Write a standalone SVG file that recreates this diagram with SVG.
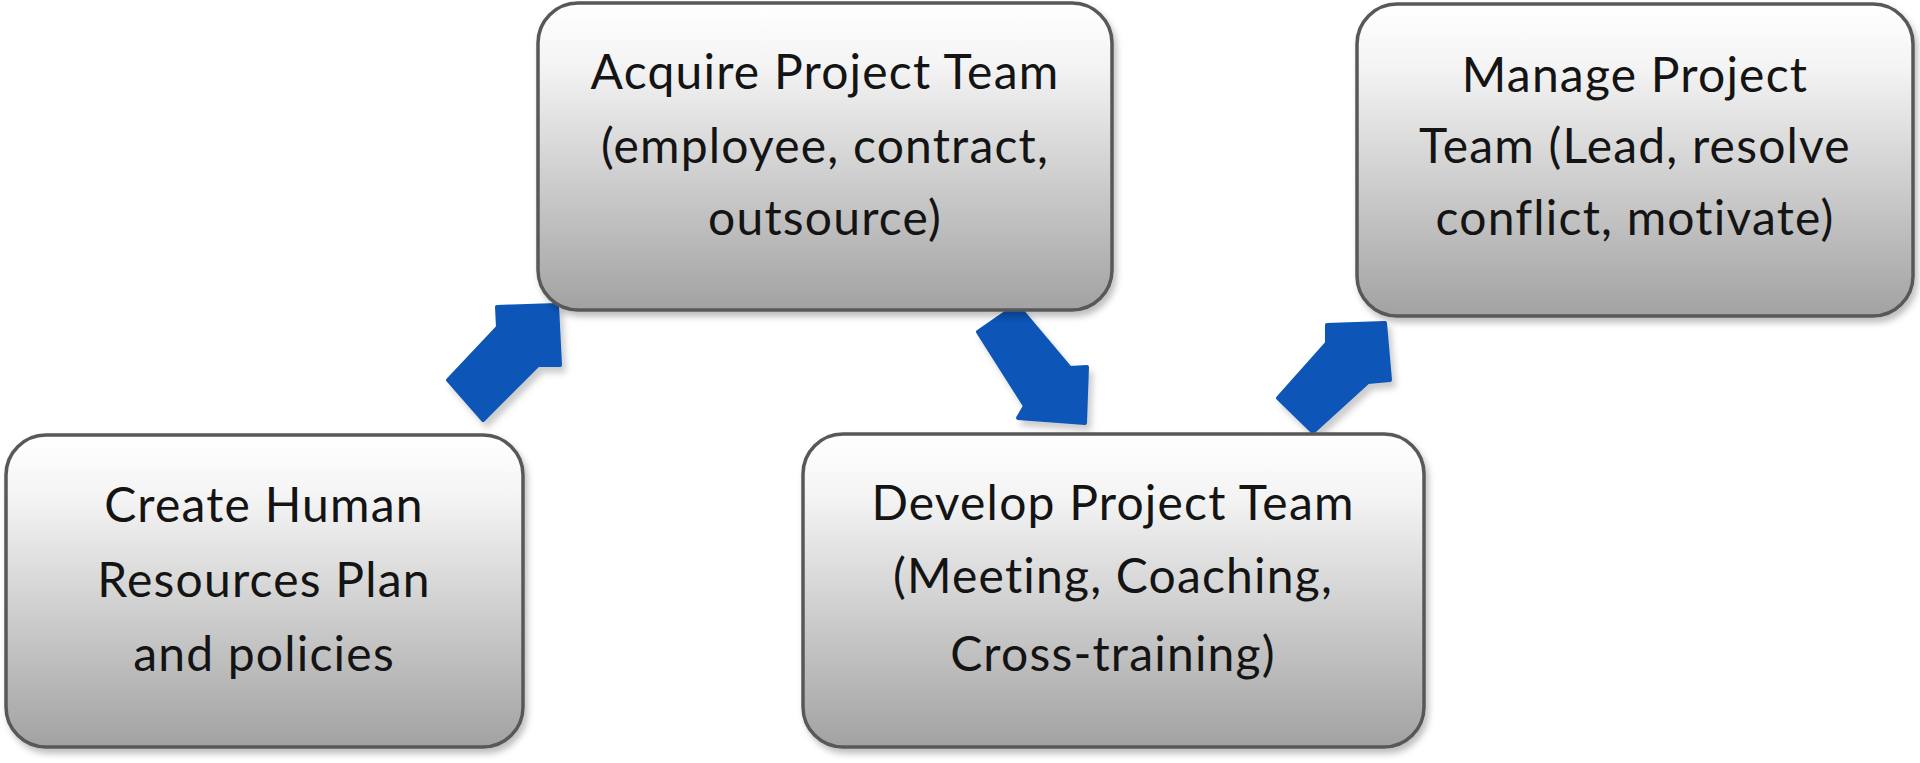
<svg xmlns="http://www.w3.org/2000/svg" width="1920" height="763" viewBox="0 0 1920 763">
<defs>
<linearGradient id="g" x1="0" y1="0" x2="0" y2="1">
<stop offset="0" stop-color="#ffffff"/>
<stop offset="0.2" stop-color="#f4f4f4"/>
<stop offset="1" stop-color="#a2a2a2"/>
</linearGradient>
<filter id="sh" x="-10%" y="-10%" width="120%" height="130%">
<feDropShadow dx="3" dy="5" stdDeviation="3" flood-color="#000" flood-opacity="0.25"/>
</filter>
<filter id="ash" x="-20%" y="-20%" width="150%" height="150%">
<feDropShadow dx="4" dy="6" stdDeviation="3" flood-color="#000" flood-opacity="0.2"/>
</filter>
</defs>
<style>
.box{fill:url(#g);stroke:#585858;stroke-width:3.5;filter:url(#sh)}
.t{font-family:Lato,"Noto Sans",sans-serif;font-size:48px;letter-spacing:1.2px;fill:#141414;text-anchor:middle}
.arr{fill:#0b55b7;stroke:#0b55b7;stroke-width:4;stroke-linejoin:round;filter:url(#ash)}
</style>
<rect width="1920" height="763" fill="#ffffff"/>
<g id="connectors">
<polygon class="arr" points="497,307 557,305 560,365 538,365 483,420 448,380 498,327"/>
<polygon class="arr" points="978,332 1017,305 1070,368 1087,367 1085,423 1018,418 1025,406"/>
<polygon class="arr" points="1327,325 1385,323 1390,380 1368,382 1313,432 1278,398 1327,343"/>
</g>
<g id="node-create">
<rect class="box" x="6" y="435" width="517" height="312" rx="40" ry="40"/>
<text class="t" x="264" y="522">Create Human</text>
<text class="t" x="264" y="597">Resources Plan</text>
<text class="t" x="264" y="671">and policies</text>
</g>
<g id="node-acquire">
<rect class="box" x="538" y="3" width="574" height="307" rx="40" ry="40"/>
<text class="t" x="825" y="89">Acquire Project Team</text>
<text class="t" x="825" y="163">(employee, contract,</text>
<text class="t" x="825" y="235">outsource)</text>
</g>
<g id="node-manage">
<rect class="box" x="1357" y="4" width="556" height="312" rx="40" ry="40"/>
<text class="t" x="1635" y="92">Manage Project</text>
<text class="t" x="1635" y="163">Team (Lead, resolve</text>
<text class="t" x="1635" y="235">conflict, motivate)</text>
</g>
<g id="node-develop">
<rect class="box" x="803" y="434" width="621" height="313" rx="40" ry="40"/>
<text class="t" x="1113" y="520">Develop Project Team</text>
<text class="t" x="1113" y="593">(Meeting, Coaching,</text>
<text class="t" x="1113" y="671">Cross-training)</text>
</g>
</svg>
